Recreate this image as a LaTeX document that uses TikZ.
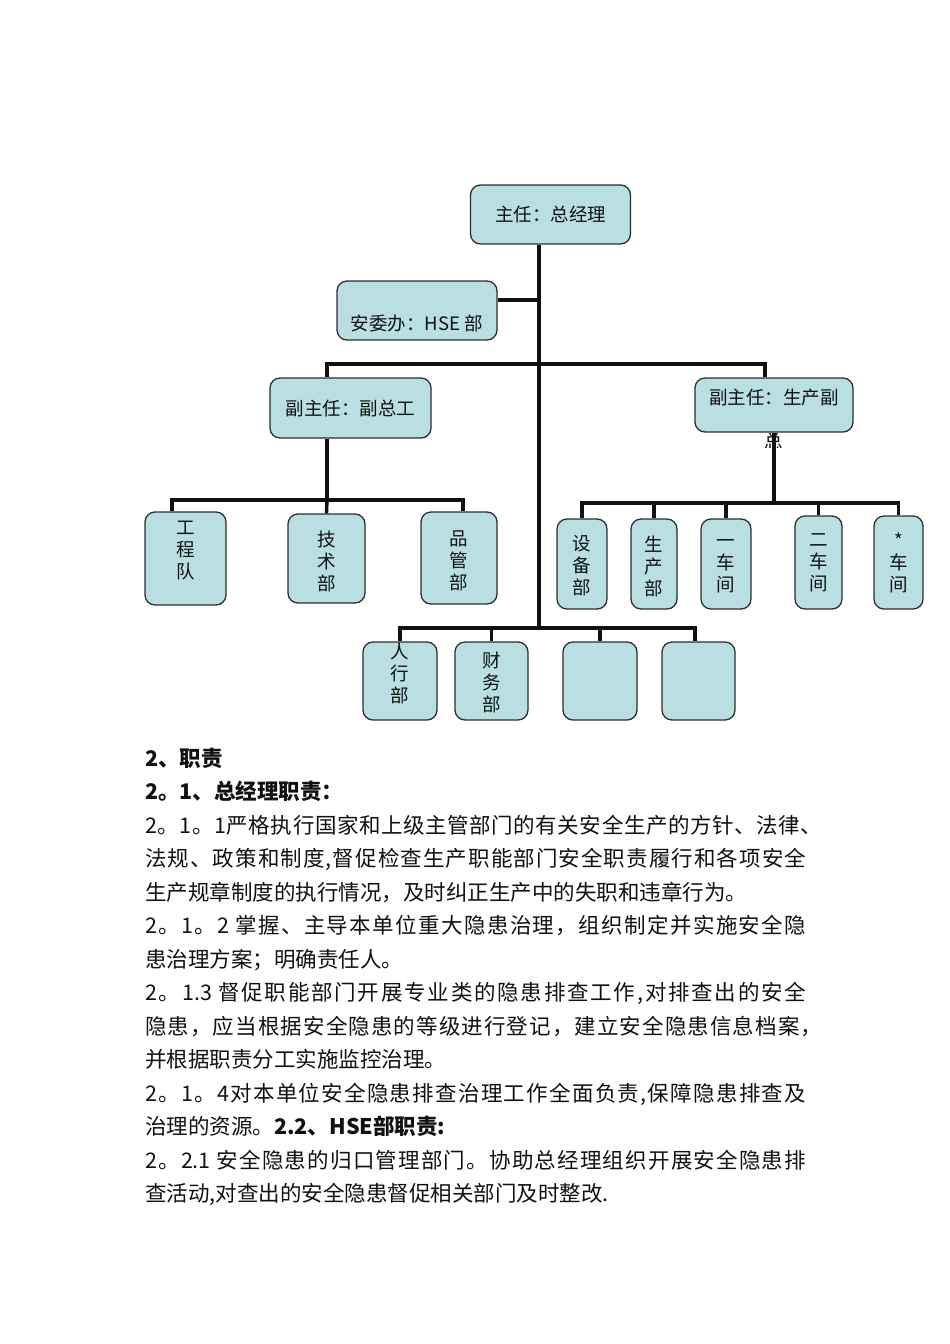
\documentclass[tikz,border=0pt]{standalone}
\usepackage{fontspec}
\setmainfont{Noto Sans CJK SC}
\usetikzlibrary{positioning}
\definecolor{Box}{HTML}{B9DFE3}
\definecolor{Edge}{HTML}{2E2E2E}
\definecolor{Ink}{HTML}{111111}
% stretchable glue between CJK characters, for justified lines
\XeTeXinterchartokenstate=1
\newXeTeXintercharclass\cjkcls
\newcount\cjkc
\def\cjkrange#1#2{\cjkc=#1 \loop\XeTeXcharclass\cjkc=\cjkcls\ifnum\cjkc<#2 \advance\cjkc by 1 \repeat}
\cjkrange{"3000}{"303F}
\cjkrange{"4E00}{"9FFF}
\cjkrange{"FF00}{"FFEF}
\XeTeXinterchartoks\cjkcls\cjkcls={\hskip 0pt plus 3pt\relax}
\XeTeXinterchartoks 0 \cjkcls={\hskip 0pt plus 3pt\relax}
\XeTeXinterchartoks\cjkcls 0 ={\hskip 0pt plus 3pt\relax}
\newcommand\fullline[2][661pt]{\hbox to #1{#2}}
\tikzset{
  unit/.style={draw=Edge, line width=1.3pt, fill=Box, rounded corners=10pt, inner sep=0pt},
  link/.style={line width=3.4pt, draw=Ink},
  lab/.style={font=\fontsize{18.5}{22}\selectfont, inner sep=0pt, align=center, text=Ink},
  body/.style={font=\fontsize{21.5}{26}\selectfont, anchor=base west, inner sep=0pt, text=Ink}
}

\begin{document}
\begin{tikzpicture}[x=1pt,y=-1pt]
  \useasboundingbox (0,0) rectangle (950,1344);
  \fill[white] (0,0) rectangle (950,1344);

  % upper levels
  \node[unit, minimum width=160pt, minimum height=59pt, lab] (gm) at (550.5,214.5) {主任：总经理};
  \node[unit, minimum width=160pt, minimum height=59pt] (hse) at (417,310.5) {};
  \node[lab] (hse-t) at (417,323) {安委办：HSE 部};
  \node[unit, minimum width=161pt, minimum height=60pt, lab] (vp1) at (350.5,408) {副主任：副总工};
  \node[unit, minimum width=158pt, minimum height=54pt] (vp2) at (774,405) {};
  \node[lab] (vp2-t) at (774,398) {副主任：生产副};
  \begin{scope}
    \clip (700,433) rectangle (850,447);
    \node[lab] (vp2-t2) at (774,441) {总};
  \end{scope}

  % departments
  \foreach \n/\x/\y/\w/\h/\ty/\t in {
    gcd/185.5/558.5/81/93/551/{工\\程\\队},
    jsb/326.5/558.5/77/89/561/{技\\术\\部},
    pgb/459/558/76/92/561/{品\\管\\部},
    sbb/582/564/50/90/566/{设\\备\\部},
    scb/654/564/46/90/566/{生\\产\\部},
    yc/726/564/50/90/566/{一\\车\\间},
    ec/818.5/562.5/47/93/563/{二\\车\\间},
    xc/898.5/562.5/49/93/563/{*\\车\\间},
    rx/400/681/74/78/673/{人\\行\\部},
    cw/491.5/681/73/78/682/{财\\务\\部},
    ea/600/681/74/78/681/{},
    eb/698.5/681/73/78/681/{}} {
    \node[unit, minimum width=\w pt, minimum height=\h pt] (\n) at (\x,\y) {};
    \node[lab] (\n-t) at (\x,\ty) {\t};
  }

  % connectors
  \coordinate (trunk) at (539,628);
  \coordinate (hj) at (539,300);
  \coordinate (mid) at (539,364);
  \coordinate (lbar) at (327,500);
  \coordinate (rbar) at (774,503);
  \draw[link] ([xshift=-11.5pt]gm.south) -- (trunk);
  \draw[link] (hj) -- (hj -| hse.east);
  \draw[link] ([xshift=-23.5pt]vp1.north) |- (mid) -| ([xshift=-9pt]vp2.north);
  \draw[link] ([xshift=-23.5pt]vp1.south) -- (lbar);
  \draw[link] ([xshift=-13.5pt]gcd.north) |- (lbar) -| ([xshift=4pt]pgb.north);
  \draw[link] (lbar) -- (jsb.north);
  \draw[link] (vp2.south) -- (rbar);
  \draw[link] (sbb.north) |- (rbar) -| (xc.north);
  \foreach \n in {scb,yc,ec}
    \draw[link] (\n.north) -- (\n.north |- rbar);
  \draw[link] (rx.north) |- (trunk) -| ([xshift=-3.5pt]eb.north);
  \foreach \n in {cw,ea}
    \draw[link] (\n.north) -- (\n.north |- trunk);

  % text below the chart
  \foreach \i/\t in {
    0/{\bfseries 2、职责},
    1/{\bfseries 2。1、总经理职责：},
    2/{\fullline[677pt]{2。1。1严格执行国家和上级主管部门的有关安全生产的方针、法律、}},
    3/{\fullline{法规、政策和制度,督促检查生产职能部门安全职责履行和各项安全}},
    4/{生产规章制度的执行情况，及时纠正生产中的失职和违章行为。},
    5/{\fullline{2。1。2 掌握、主导本单位重大隐患治理，组织制定并实施安全隐}},
    6/{患治理方案；明确责任人。},
    7/{\fullline{2。1.3 督促职能部门开展专业类的隐患排查工作,对排查出的安全}},
    8/{\fullline[677pt]{隐患，应当根据安全隐患的等级进行登记，建立安全隐患信息档案，}},
    9/{并根据职责分工实施监控治理。},
    10/{\fullline{2。1。4对本单位安全隐患排查治理工作全面负责,保障隐患排查及}},
    11/{治理的资源。{\bfseries 2.2、HSE部职责:}},
    12/{\fullline{2。2.1 安全隐患的归口管理部门。协助总经理组织开展安全隐患排}},
    13/{查活动,对查出的安全隐患督促相关部门及时整改.}} {
    \node[body] (line\i) at (145,{766+33.5*\i}) {\t};
  }
\end{tikzpicture}
\end{document}
